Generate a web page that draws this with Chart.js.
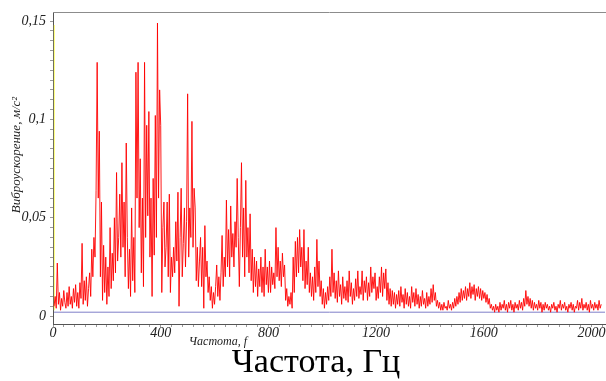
<!DOCTYPE html>
<html>
<head>
<meta charset="utf-8">
<script src="https://cdn.jsdelivr.net/npm/chart.js@4.4.0/dist/chart.umd.min.js"></script>
<style>
    html, body { margin: 0; padding: 0; background: #fff; }
    #wrap { width: 606px; height: 381px; }
</style>
</head>
<body>
<div id="wrap"><canvas id="spectrum" width="606" height="381"></canvas></div>
<script>
    "use strict";

    // Spectrum bins: first bin and bin width, Hz
    const startHz = 4;
    const stepHz = 4;

    // Vibration acceleration per bin, in 10^-3 m/s^2
    const accelMilli = [
        // 4 .. 160 Hz
        5, 10, 4, 27, 6, 12, 3, 9, 5, 13, 7, 4, 12, 5, 15, 6, 10, 4, 14, 7,
        16, 5, 12, 4, 17, 9, 37, 6, 18, 8, 20, 5, 14, 22, 10, 34, 20, 40, 30, 64,
        // 164 .. 320 Hz
        129, 60, 94, 20, 58, 8, 36, 12, 30, 6, 25, 10, 45, 14, 32, 18, 50, 22, 73, 28,
        40, 62, 30, 78, 35, 58, 20, 88, 40, 14, 34, 10, 55, 18, 40, 12, 124, 60, 129, 45,
        // 324 .. 480 Hz
        80, 22, 60, 15, 129, 40, 97, 51, 104, 30, 60, 10, 70, 31, 102, 40, 149, 60, 115, 97,
        12, 45, 58, 25, 35, 58, 20, 62, 12, 30, 20, 35, 22, 48, 28, 63, 5, 40, 65, 20,
        // 484 .. 640 Hz
        37, 55, 25, 48, 113, 30, 55, 40, 99, 35, 65, 55, 18, 35, 15, 28, 40, 15, 35, 4,
        46, 20, 28, 12, 20, 8, 15, 4, 12, 6, 15, 26, 10, 20, 8, 22, 41, 15, 30, 20,
        // 644 .. 800 Hz
        59, 25, 44, 20, 56, 30, 42, 25, 48, 35, 70, 40, 15, 45, 78, 30, 55, 20, 69, 30,
        45, 22, 52, 18, 34, 12, 30, 15, 28, 10, 24, 15, 30, 12, 25, 10, 34, 16, 25, 12,
        // 804 .. 960 Hz
        28, 12, 25, 16, 22, 14, 45, 20, 35, 18, 28, 15, 32, 20, 26, 8, 14, 5, 10, 6,
        12, 4, 30, 12, 38, 20, 40, 22, 44, 25, 35, 18, 44, 14, 28, 16, 35, 12, 22, 10,
        // 964 .. 1120 Hz
        20, 8, 25, 12, 39, 15, 28, 10, 18, 6, 14, 4, 12, 6, 15, 8, 20, 10, 34, 12,
        22, 9, 18, 7, 23, 10, 16, 6, 20, 9, 15, 8, 18, 7, 23, 10, 17, 6, 14, 8,
        // 1124 .. 1280 Hz
        19, 10, 23, 9, 15, 11, 23, 8, 18, 12, 20, 8, 17, 10, 25, 12, 20, 14, 22, 8,
        15, 9, 20, 12, 25, 10, 22, 14, 24, 8, 17, 6, 14, 5, 13, 6, 12, 4, 11, 6,
        // 1284 .. 1440 Hz
        13, 5, 15, 7, 11, 4, 14, 6, 12, 5, 10, 4, 15, 7, 12, 5, 14, 6, 11, 4,
        10, 5, 13, 6, 9, 4, 12, 5, 10, 6, 14, 7, 16, 8, 12, 5, 8, 4, 7, 3,
        // 1444 .. 1600 Hz
        6, 3, 7, 4, 5, 3, 8, 4, 6, 3, 7, 4, 9, 5, 10, 6, 12, 7, 14, 8,
        13, 9, 15, 8, 14, 10, 17, 9, 15, 11, 16, 8, 14, 10, 15, 9, 14, 8, 13, 9,
        // 1604 .. 1760 Hz
        12, 7, 11, 6, 9, 4, 6, 3, 5, 2, 6, 3, 5, 2, 7, 3, 6, 4, 8, 3,
        6, 2, 7, 4, 8, 3, 6, 2, 7, 4, 6, 3, 8, 4, 7, 3, 9, 5, 13, 6,
        // 1764 .. 1920 Hz
        10, 5, 9, 4, 8, 3, 7, 4, 6, 3, 8, 4, 7, 2, 6, 3, 7, 4, 6, 3,
        5, 2, 6, 4, 7, 3, 5, 2, 6, 4, 8, 3, 6, 4, 7, 3, 5, 2, 6, 4,
        // 1924 .. 2036 Hz
        7, 3, 6, 2, 5, 4, 8, 3, 7, 4, 9, 3, 6, 4, 7, 3, 6, 2, 8, 4,
        6, 3, 7, 4, 6, 3, 8, 4, 6
    ];

    // Reference level (blue line) and the yellow marker line
    const refLevel = 0.002;
    const markerHz = 5;
    const markerRange = [0.003, 0.148];

    // Axis ticks
    const xTicks = [0, 400, 800, 1200, 1600, 2000];
    const yTicks = [0, 0.05, 0.1, 0.15];
    const yTickLabels = ['0', '0,05', '0,1', '0,15'];

    const spectrumPoints = accelMilli.map(function (v, i) {
        return { x: startHz + i * stepHz, y: v / 1000 };
    });
    const lastHz = startHz + (accelMilli.length - 1) * stepHz;

    const serif = "'Liberation Serif', 'Times New Roman', serif";
    const tickFont = { family: serif, size: 14, style: 'italic' };

    // Top frame line and the titles
    const frameAndTitles = {
        id: 'frameAndTitles',
        afterDraw: function (chart) {
            const ctx = chart.ctx;
            const area = chart.chartArea;
            ctx.save();
            ctx.strokeStyle = '#8c8c8c';
            ctx.lineWidth = 1;
            ctx.beginPath();
            ctx.moveTo(area.left, area.top + 0.5);
            ctx.lineTo(area.right + 1, area.top + 0.5);
            ctx.stroke();

            ctx.fillStyle = '#222';
            ctx.textAlign = 'center';
            ctx.textBaseline = 'middle';
            ctx.font = 'italic 12px ' + serif;
            ctx.fillText('Частота, f', 218, 342);

            ctx.save();
            ctx.translate(17, 155);
            ctx.rotate(-Math.PI / 2);
            ctx.font = 'italic 13px ' + serif;
            ctx.fillText('Виброускорение, м/с²', 0, 0);
            ctx.restore();

            ctx.fillStyle = '#000';
            ctx.font = '34px ' + serif;
            ctx.fillText('Частота, Гц', 316, 363);
            ctx.restore();
        }
    };

    new Chart(document.getElementById('spectrum'), {
        type: 'line',
        data: {
            datasets: [{
                data: spectrumPoints,
                borderColor: 'rgba(255, 0, 0, 0.9)',
                borderWidth: 1,
                pointRadius: 0,
                tension: 0
            }, {
                data: [{ x: startHz, y: refLevel }, { x: lastHz + 14, y: refLevel }],
                borderColor: '#7f7fc8',
                borderWidth: 1,
                pointRadius: 0
            }, {
                data: [{ x: markerHz, y: markerRange[0] }, { x: markerHz, y: markerRange[1] }],
                borderColor: '#ffff70',
                borderWidth: 1,
                pointRadius: 0
            }]
        },
        options: {
            responsive: false,
            animation: false,
            layout: { padding: { top: 12, right: 1, left: 0, bottom: 0 } },
            plugins: {
                legend: { display: false },
                tooltip: { enabled: false }
            },
            scales: {
                x: {
                    type: 'linear',
                    min: 0,
                    max: 2050,
                    afterBuildTicks: function (axis) {
                        const t = [];
                        for (let v = 0; v <= 2040; v += 40) t.push({ value: v });
                        axis.ticks = t;
                    },
                    afterFit: function (scale) {
                        scale.height = 57;
                        scale.paddingLeft = 0;
                        scale.paddingRight = 0;
                    },
                    ticks: {
                        autoSkip: false,
                        maxRotation: 0,
                        padding: -2,
                        color: '#222',
                        font: tickFont,
                        callback: function (value) {
                            return xTicks.indexOf(value) >= 0 ? String(value) : '';
                        }
                    },
                    grid: {
                        drawOnChartArea: false,
                        drawTicks: true,
                        tickLength: 3,
                        color: '#9a9a9a'
                    },
                    border: { display: true, color: '#555' }
                },
                y: {
                    min: -0.004,
                    max: 0.1546,
                    afterBuildTicks: function (axis) {
                        const t = [];
                        for (let k = 0; k <= 30; k++) t.push({ value: Math.round(k * 5) / 1000 });
                        axis.ticks = t;
                    },
                    afterFit: function (scale) {
                        scale.width = 53;
                        scale.paddingTop = 0;
                        scale.paddingBottom = 0;
                    },
                    ticks: {
                        autoSkip: false,
                        padding: 4,
                        color: '#222',
                        font: tickFont,
                        callback: function (value) {
                            const i = yTicks.findIndex(function (t) { return Math.abs(t - value) < 1e-9; });
                            return i >= 0 ? yTickLabels[i] : '';
                        }
                    },
                    grid: {
                        drawOnChartArea: false,
                        drawTicks: true,
                        tickLength: 3,
                        color: '#9a9a9a'
                    },
                    border: { display: true, color: '#555' }
                }
            }
        },
        plugins: [frameAndTitles]
    });
</script>
</body>
</html>
